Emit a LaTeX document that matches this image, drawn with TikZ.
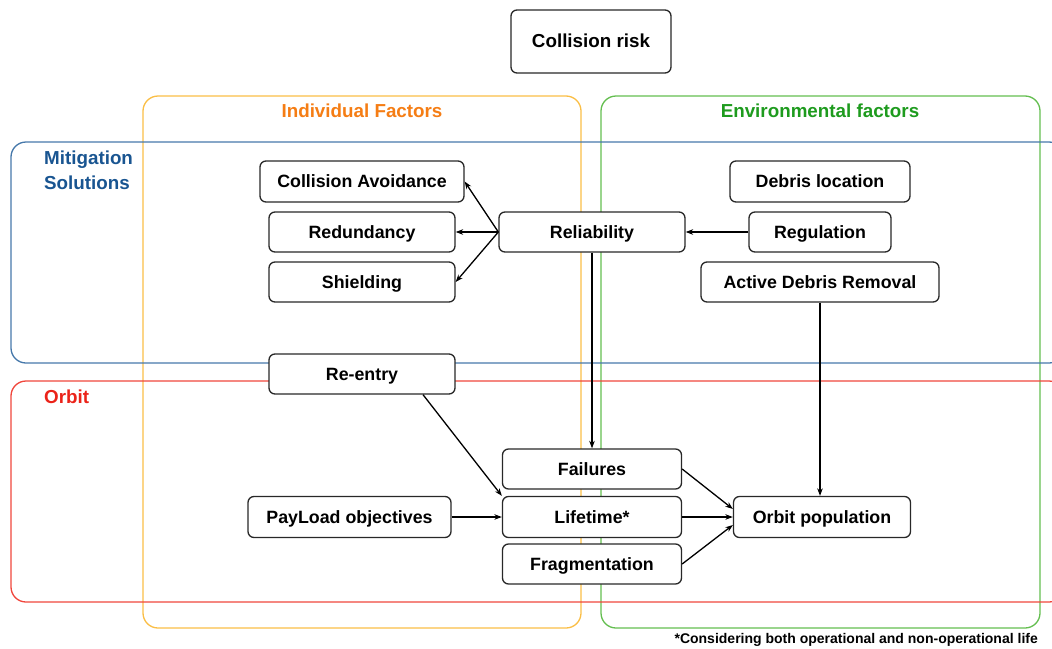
\documentclass[tikz,border=0pt]{standalone}
\usepackage{fontspec}
\setmainfont{Liberation Sans}
\usetikzlibrary{arrows.meta,calc}
\definecolor{ofr}{RGB}{250,190,70}
\definecolor{otx}{RGB}{245,125,20}
\definecolor{gfr}{RGB}{100,190,80}
\definecolor{gtx}{RGB}{30,155,30}
\definecolor{bfr}{RGB}{70,120,170}
\definecolor{btx}{RGB}{25,85,145}
\definecolor{rfr}{RGB}{240,70,60}
\definecolor{rtx}{RGB}{235,35,25}
\definecolor{bx}{RGB}{40,40,40}
\tikzset{
  box/.style={draw=bx, line width=1.3pt, rounded corners=6pt, fill=white, inner sep=0pt,
    text height=12.8pt, text depth=0pt,
    font=\fontsize{17.8}{20}\selectfont\bfseries, text=black},
  frame/.style={line width=1.3pt, rounded corners=15pt},
  ttl/.style={font=\fontsize{18.8}{22}\selectfont\bfseries, inner sep=0pt},
  arr/.style={draw=black, line width=1.3pt, -{Stealth[length=7.5pt,width=5.5pt]}}
}
\begin{document}
\begin{tikzpicture}[x=1pt,y=-1pt]
\useasboundingbox (0,0) rectangle (1052,648);
\clip (0,0) rectangle (1052,648);
% frames
\draw[frame, draw=ofr] (143,96) rectangle (581,628);
\draw[frame, draw=gfr] (601,96) rectangle (1040,628);
\draw[frame, draw=bfr] (11,142) rectangle (1064,363);
\draw[frame, draw=rfr] (11,381) rectangle (1064,602);
\node[ttl, text=otx, text height=13.5pt, text depth=0pt] (tind) at (362,111) {Individual Factors};
\node[ttl, text=gtx, text height=13.5pt, text depth=0pt] (tenv) at (820,111) {Environmental factors};
\node[ttl, text=btx, anchor=north west, align=left, font=\fontsize{18.8}{25}\selectfont\bfseries] (tmit) at (44,151) {Mitigation\\Solutions};
\node[ttl, text=rtx, anchor=west, text height=13.5pt, text depth=0pt] (torb) at (44,397) {Orbit};
% boxes
\node[box, minimum width=160pt, minimum height=63pt, font=\fontsize{18.8}{22}\selectfont\bfseries] (risk) at (591,41.5) {Collision risk};
\node[box, minimum width=204pt, minimum height=41pt] (ca) at (362,181.5) {Collision Avoidance};
\node[box, minimum width=186pt, minimum height=40pt] (red) at (362,232) {Redundancy};
\node[box, minimum width=186pt, minimum height=40pt] (shi) at (362,282) {Shielding};
\node[box, minimum width=186pt, minimum height=40pt] (rel) at (592,232) {Reliability};
\node[box, minimum width=180pt, minimum height=41pt] (deb) at (820,181.5) {Debris location};
\node[box, minimum width=142pt, minimum height=40pt] (reg) at (820,232) {Regulation};
\node[box, minimum width=238pt, minimum height=40pt] (adr) at (820,282) {Active Debris Removal};
\node[box, minimum width=186pt, minimum height=40pt] (ree) at (362,374) {Re-entry};
\node[box, minimum width=179pt, minimum height=40pt] (fail) at (592,469) {Failures};
\node[box, minimum width=179pt, minimum height=41pt] (life) at (592,517) {Lifetime*};
\node[box, minimum width=179pt, minimum height=40pt] (frag) at (592,564) {Fragmentation};
\node[box, minimum width=203pt, minimum height=41pt] (pay) at (349.5,517) {PayLoad objectives};
\node[box, minimum width=177pt, minimum height=41pt] (orb) at (822,517) {Orbit population};
\node[anchor=east, inner sep=0pt, font=\fontsize{14}{16}\selectfont\bfseries] (note) at (1038,640) {*Considering both operational and non-operational life};
% arrows
\draw[arr] (rel.west) -- (ca.east);
\draw[arr] (rel.west) -- (red.east);
\draw[arr] (rel.west) -- (shi.east);
\draw[arr] (reg.west) -- (rel.east);
\draw[arr] (rel.south) -- (fail.north);
\draw[arr] (adr.south) -- (adr.south |- orb.north);
\draw[arr] ($(ree.south)+(61,0)$) -- (life.north west);
\draw[arr] (pay.east) -- (life.west);
\draw[arr] (fail.east) -- ($(orb.west)+(0,-8)$);
\draw[arr] (life.east) -- (orb.west);
\draw[arr] (frag.east) -- ($(orb.west)+(0,8)$);
\end{tikzpicture}
\end{document}
